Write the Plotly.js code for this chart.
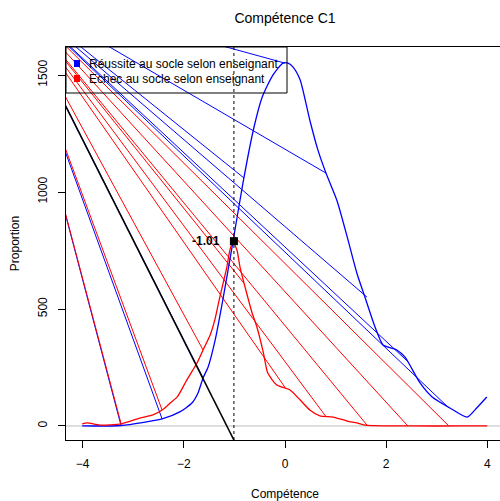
<!DOCTYPE html>
<html><head><meta charset="utf-8">
<script src="https://cdn.plot.ly/plotly-3.0.1.min.js"></script>
<style>html,body{margin:0;padding:0;overflow:hidden;background:#fff;}#chart{width:510px;height:501px;}</style>
</head><body><div id="chart"></div>
<script>
// Blue density curve (réussite)
const blueX = [-4.01,-3.24,-2.43,-2.08,-1.84,-1.72,-1.62,-1.52,-1.38,-1.23,-1.03,-0.83,-0.63,-0.45,-0.24,-0.04,0.06,0.16,0.30,0.49,0.65,0.81,1.03,1.23,1.42,1.58,1.78,1.94,2.21,2.37,2.67,2.91,3.26,3.60,3.79,3.99];
const blueY = [0,2,30,60,98,141,205,252,368,538,786,1040,1261,1406,1500,1551,1551,1534,1479,1308,1180,1081,962,808,654,551,423,346,325,295,184,124,77,38,77,124];
// Red density curve (échec)
const redX = [-4.01,-3.91,-3.66,-3.24,-2.87,-2.61,-2.43,-2.27,-2.13,-1.94,-1.74,-1.62,-1.48,-1.38,-1.30,-1.15,-1.09,-1.03,-0.95,-0.89,-0.79,-0.65,-0.55,-0.43,-0.34,-0.16,0.10,0.30,0.49,0.69,0.95,1.23,1.42,1.58,2.5,3.5,4.0];
const redY = [9,13,4,9,34,47,68,98,124,197,269,325,389,460,540,679,752,786,752,679,594,483,419,316,226,175,154,111,68,43,38,21,13,4,0,0,0];
// Ray origin and ray end points on each curve
const rayOrigin = [-5.53, 1880];
const rayEndX = [-3.24,-2.43,-1.62,-0.81,0,0.81,1.62,2.43,3.24];
const blueEndY = [0,30,205,1060,1551,1081,551,275,77];
const redEndY = [9,68,325,610,165,40,4,0,0];
// Threshold
const seuilX = -1.01;
const seuilY = 790;
const seuilLabel = "-1.01";
const blackEnd = [-1.01, -60];
const legendLabels = ["Réussite au socle selon enseignant","Echec au socle selon enseignant"];

function rays(endsX, endsY){
  const x=[], y=[];
  for(let i=0;i<endsX.length;i++){ x.push(rayOrigin[0], endsX[i], null); y.push(rayOrigin[1], endsY[i], null); }
  return {x, y};
}
const rb = rays(rayEndX, blueEndY), rr = rays(rayEndX, redEndY);
const FONT = "Liberation Sans, Arial, Helvetica, sans-serif";

const traces = [
  {x: rb.x, y: rb.y, mode:'lines', line:{color:'#0000ff', width:1}, hoverinfo:'skip'},
  {x: rr.x, y: rr.y, mode:'lines', line:{color:'#ff0000', width:1}, hoverinfo:'skip'},
  {x: blueX, y: blueY, mode:'lines', line:{color:'#0000ff', width:1.3, shape:'spline', smoothing:0.6}},
  {x: redX, y: redY, mode:'lines', line:{color:'#ff0000', width:1.3, shape:'spline', smoothing:0.6}},
  {x: [rayOrigin[0], blackEnd[0]], y: [rayOrigin[1], blackEnd[1]], mode:'lines', line:{color:'#000', width:1.6}},
  {x: [seuilX], y: [seuilY], mode:'markers', marker:{symbol:'square', size:8, color:'#000'}}
];

const layout = {
  width:510, height:501,
  margin:{l:66, r:6, t:47, b:61},
  showlegend:false,
  paper_bgcolor:'#fff', plot_bgcolor:'#fff',
  font:{family:FONT, size:12, color:'#000'},
  title:{text:'Compétence C1', x:0.5, xref:'paper', y:1-18/501, yref:'container', yanchor:'middle', font:{family:FONT, size:14, color:'#000'}},
  xaxis:{range:[-4.33,4.33], tickvals:[-4,-2,0,2,4], ticks:'outside', ticklen:7, tickcolor:'#000',
    showline:true, mirror:true, linecolor:'#000', linewidth:1, showgrid:false, zeroline:false,
    ticklabelstandoff:6, tickfont:{family:FONT,size:12},
    title:{text:'Compétence', standoff:20, font:{family:FONT,size:12}}},
  yaxis:{range:[-60,1620], tickvals:[0,500,1000,1500], ticks:'outside', ticklen:7, tickcolor:'#000', tickangle:-90,
    showline:true, mirror:true, linecolor:'#000', linewidth:1, showgrid:false, zeroline:false,
    ticklabelstandoff:6, tickfont:{family:FONT,size:12},
    title:{text:'Proportion', standoff:14, font:{family:FONT,size:12}}},
  shapes:[
    {type:'line', xref:'paper', x0:0, x1:1, yref:'y', y0:0, y1:0, line:{color:'#bebebe', width:1}, layer:'below'},
    {type:'line', xref:'x', x0:seuilX, x1:seuilX, yref:'paper', y0:0, y1:1, line:{color:'#000', width:1, dash:'dot'}},
    {type:'rect', xref:'paper', yref:'paper', x0:0, x1:(287-66)/438, y0:(440-93)/393, y1:1, line:{color:'#000', width:1}},
    {type:'rect', xref:'paper', yref:'paper', x0:(74-66)/438, x1:(80-66)/438, y0:(440-67)/393, y1:(440-60)/393, fillcolor:'#0000ff', line:{width:0}},
    {type:'rect', xref:'paper', yref:'paper', x0:(74-66)/438, x1:(80-66)/438, y0:(440-82)/393, y1:(440-75)/393, fillcolor:'#ff0000', line:{width:0}}
  ],
  annotations:[
    {xref:'x', yref:'y', x:seuilX, y:seuilY, xanchor:'right', yanchor:'middle', xshift:-12, showarrow:false, text:'<b>'+seuilLabel+'</b>', font:{family:FONT,size:12,color:'#000'}},
    {xref:'paper', yref:'paper', x:(87-66)/438, y:(440-64)/393, xanchor:'left', yanchor:'middle', showarrow:false, text:legendLabels[0], font:{family:FONT,size:12,color:'#000'}},
    {xref:'paper', yref:'paper', x:(87-66)/438, y:(440-79)/393, xanchor:'left', yanchor:'middle', showarrow:false, text:legendLabels[1], font:{family:FONT,size:12,color:'#000'}}
  ]
};
Plotly.newPlot('chart', traces, layout, {displayModeBar:false, staticPlot:true});
</script></body></html>
